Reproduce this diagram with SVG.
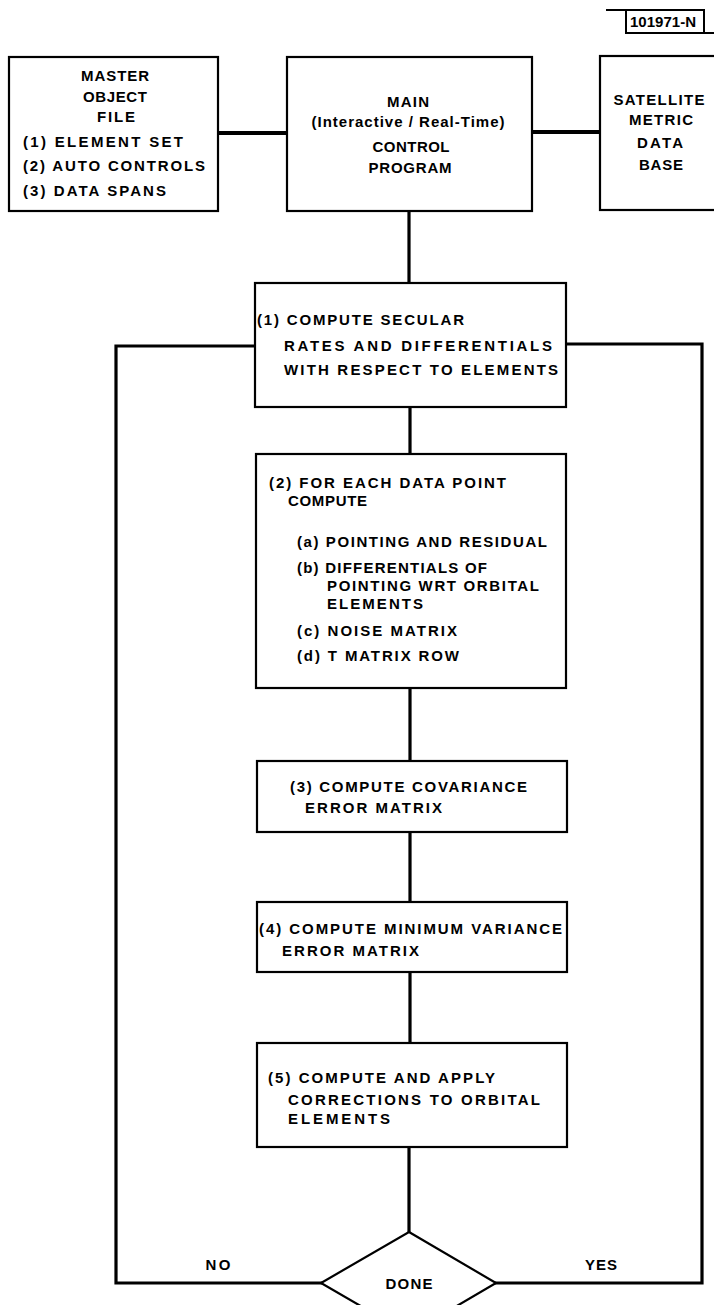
<svg xmlns="http://www.w3.org/2000/svg" width="714" height="1305" viewBox="0 0 714 1305">
<style>
.box{fill:#fff;stroke:#000;stroke-width:2.2}
.ln{fill:none;stroke:#000;stroke-width:3.2;stroke-linejoin:miter;stroke-linecap:square}
.t{font-family:"Liberation Sans",Arial,sans-serif;font-size:15px;font-weight:bold;fill:#000}
.c{text-anchor:middle}
</style>
<rect width="714" height="1305" fill="#fff"/>
<g id="connectors">
<line class="ln" x1="218" y1="133" x2="287" y2="133" style="stroke-width:4"/>
<line class="ln" x1="532" y1="132" x2="600" y2="132" style="stroke-width:4"/>
<line class="ln" x1="409" y1="211" x2="409" y2="283"/>
<line class="ln" x1="410" y1="407" x2="410" y2="454"/>
<line class="ln" x1="410" y1="688" x2="410" y2="761"/>
<line class="ln" x1="410" y1="832" x2="410" y2="902"/>
<line class="ln" x1="410" y1="972" x2="410" y2="1043"/>
<line class="ln" x1="409" y1="1147" x2="409" y2="1232"/>
<polyline class="ln" points="255,346 116,346 116,1283 321,1283"/>
<polyline class="ln" points="566,344 702,344 702,1283 496,1283"/>
<line x1="606" y1="10" x2="626" y2="10" stroke="#000" stroke-width="2"/>
<line x1="704" y1="33" x2="714" y2="33" stroke="#000" stroke-width="2"/>
</g>
<g id="label">
<rect x="626" y="10" width="78" height="23" fill="#fff" stroke="#000" stroke-width="2"/>
<text class="t c" x="663" y="27" font-size="13" textLength="66" lengthAdjust="spacingAndGlyphs">101971-N</text>
</g>
<g id="master">
<rect class="box" x="9" y="57" width="209" height="154"/>
<text class="t c" x="115" y="81" textLength="68" lengthAdjust="spacing">MASTER</text>
<text class="t c" x="115" y="102" textLength="64" lengthAdjust="spacing">OBJECT</text>
<text class="t c" x="116" y="122" textLength="38" lengthAdjust="spacing">FILE</text>
<text class="t" x="23" y="147" textLength="160" lengthAdjust="spacing">(1) ELEMENT SET</text>
<text class="t" x="23" y="171" textLength="182" lengthAdjust="spacing">(2) AUTO CONTROLS</text>
<text class="t" x="23" y="196" textLength="143" lengthAdjust="spacing">(3) DATA SPANS</text>
</g>
<g id="main">
<rect class="box" x="287" y="57" width="245" height="154"/>
<text class="t c" x="408" y="107" textLength="42" lengthAdjust="spacing">MAIN</text>
<text class="t c" x="408" y="127" textLength="193" lengthAdjust="spacing">(Interactive / Real-Time)</text>
<text class="t c" x="411" y="152" textLength="77" lengthAdjust="spacing">CONTROL</text>
<text class="t c" x="410" y="173" textLength="83" lengthAdjust="spacing">PROGRAM</text>
</g>
<g id="satellite">
<rect class="box" x="600" y="56" width="120" height="154"/>
<text class="t c" x="659" y="105" textLength="91" lengthAdjust="spacing">SATELLITE</text>
<text class="t c" x="661" y="125" textLength="64" lengthAdjust="spacing">METRIC</text>
<text class="t c" x="660" y="148" textLength="46" lengthAdjust="spacing">DATA</text>
<text class="t c" x="661" y="170" textLength="44" lengthAdjust="spacing">BASE</text>
</g>
<g id="step1">
<rect class="box" x="255" y="283" width="311" height="124"/>
<text class="t" x="257" y="325" textLength="207" lengthAdjust="spacing">(1) COMPUTE SECULAR</text>
<text class="t" x="284" y="351" textLength="268" lengthAdjust="spacing">RATES AND DIFFERENTIALS</text>
<text class="t" x="284" y="375" textLength="274" lengthAdjust="spacing">WITH RESPECT TO ELEMENTS</text>
</g>
<g id="step2">
<rect class="box" x="256" y="454" width="310" height="234"/>
<text class="t" x="269" y="488" textLength="237" lengthAdjust="spacing">(2) FOR EACH DATA POINT</text>
<text class="t" x="288" y="506" textLength="79" lengthAdjust="spacing">COMPUTE</text>
<text class="t" x="297" y="547" textLength="250" lengthAdjust="spacing">(a) POINTING AND RESIDUAL</text>
<text class="t" x="297" y="573" textLength="190" lengthAdjust="spacing">(b) DIFFERENTIALS OF</text>
<text class="t" x="327" y="591" textLength="212" lengthAdjust="spacing">POINTING WRT ORBITAL</text>
<text class="t" x="327" y="609" textLength="96" lengthAdjust="spacing">ELEMENTS</text>
<text class="t" x="297" y="636" textLength="160" lengthAdjust="spacing">(c) NOISE MATRIX</text>
<text class="t" x="297" y="661" textLength="162" lengthAdjust="spacing">(d) T MATRIX ROW</text>
</g>
<g id="step3">
<rect class="box" x="257" y="761" width="310" height="71"/>
<text class="t" x="290" y="792" textLength="237" lengthAdjust="spacing">(3) COMPUTE COVARIANCE</text>
<text class="t" x="305" y="813" textLength="137" lengthAdjust="spacing">ERROR MATRIX</text>
</g>
<g id="step4">
<rect class="box" x="257" y="902" width="310" height="70"/>
<text class="t" x="259" y="934" textLength="303" lengthAdjust="spacing">(4) COMPUTE MINIMUM VARIANCE</text>
<text class="t" x="282" y="956" textLength="137" lengthAdjust="spacing">ERROR MATRIX</text>
</g>
<g id="step5">
<rect class="box" x="257" y="1043" width="310" height="104"/>
<text class="t" x="268" y="1083" textLength="227" lengthAdjust="spacing">(5) COMPUTE AND APPLY</text>
<text class="t" x="288" y="1105" textLength="252" lengthAdjust="spacing">CORRECTIONS TO ORBITAL</text>
<text class="t" x="288" y="1124" textLength="102" lengthAdjust="spacing">ELEMENTS</text>
</g>
<g id="done">
<polygon points="409,1232 496,1283 409,1334 321,1283" fill="#fff" stroke="#000" stroke-width="2.2"/>
<text class="t c" x="409" y="1289" textLength="47" lengthAdjust="spacing">DONE</text>
</g>
<g id="edge-labels">
<text class="t c" x="218" y="1270" textLength="25" lengthAdjust="spacing">NO</text>
<text class="t c" x="601" y="1270" textLength="32" lengthAdjust="spacing">YES</text>
</g>
</svg>
